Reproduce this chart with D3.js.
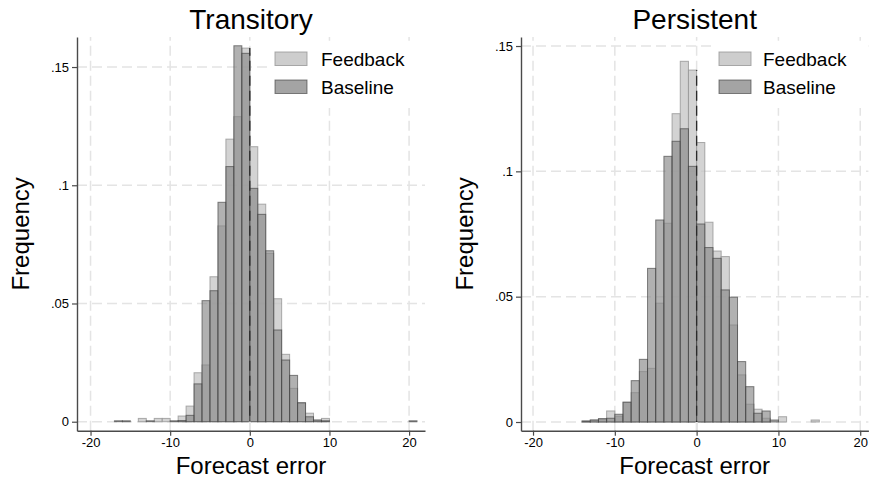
<!DOCTYPE html>
<html>
<head>
<meta charset="utf-8">
<script src="https://cdn.jsdelivr.net/npm/d3@7"></script>
<style>
  html, body { margin: 0; padding: 0; background: #fff; }
  svg { display: block; font-family: "Liberation Sans", Arial, sans-serif; }
</style>
</head>
<body>
<svg id="chart" width="870" height="484"></svg>
<script>
// Histogram bins: left edge of each unit-wide bin of the forecast error
const transitoryBins = [-17, -16, -14, -13, -12, -11, -10, -9, -8, -7, -6, -5, -4, -3, -2, -1, 0, 1, 2, 3, 4, 5, 6, 7, 8, 9, 20];
const transitoryFeedback = [0, 0, 0.0014, 0, 0.0014, 0.0014, 0, 0.0024, 0.0066, 0.0207, 0.0240, 0.0613, 0.0828, 0.1195, 0.1290, 0.1580, 0.1163, 0.0920, 0.0712, 0.0520, 0.0285, 0.0141, 0.0080, 0.0036, 0.0007, 0.0014, 0];
const transitoryBaseline = [0.0004, 0.0004, 0, 0.0004, 0, 0, 0.0004, 0.0005, 0.0027, 0.0160, 0.0512, 0.0554, 0.0928, 0.1079, 0.1590, 0.1558, 0.0987, 0.0877, 0.0723, 0.0388, 0.0261, 0.0196, 0.0080, 0.0021, 0.0007, 0.0004, 0.0004];

const persistentBins = [-14, -13, -12, -11, -10, -9, -8, -7, -6, -5, -4, -3, -2, -1, 0, 1, 2, 3, 4, 5, 6, 7, 8, 9, 10, 14];
const persistentFeedback = [0.0004, 0.0008, 0.0013, 0.0044, 0.0023, 0.0079, 0.0117, 0.0201, 0.0214, 0.0474, 0.0793, 0.1230, 0.1439, 0.1404, 0.1115, 0.0797, 0.0682, 0.0660, 0.0387, 0.0188, 0.0071, 0.0051, 0.0015, 0, 0.0021, 0.0008];
const persistentBaseline = [0.0004, 0.0008, 0.0013, 0.0015, 0.0031, 0.0079, 0.0165, 0.0250, 0.0613, 0.0806, 0.1060, 0.1120, 0.1170, 0.1020, 0.0790, 0.0696, 0.0653, 0.0527, 0.0498, 0.0241, 0.0141, 0.0035, 0.0044, 0.0008, 0, 0];

const binWidth = 1;
const xTicks = [-20, -10, 0, 10, 20];
const transitoryYTicks = [0, 0.05, 0.1, 0.15];
const persistentYTicks = [0, 0.05, 0.1, 0.15];
const seriesNames = ["Feedback", "Baseline"];
const panelTitles = ["Transitory", "Persistent"];
const xTitle = "Forecast error";
const yTitle = "Frequency";

// Visual styles for the two overlaid histograms
const styles = {
  Feedback: { fill: "rgb(196,196,196)", fillOpacity: 0.75, stroke: "rgb(150,150,150)", strokeOpacity: 0.8 },
  Baseline: { fill: "rgb(136,136,136)", fillOpacity: 0.66, stroke: "rgb(55,55,55)", strokeOpacity: 0.6 }
};

const panels = [
  {
    title: panelTitles[0], bins: transitoryBins,
    series: { Feedback: transitoryFeedback, Baseline: transitoryBaseline },
    yTicks: transitoryYTicks,
    xDomain: [-21.7, 22.0], xRange: [77, 425],
    yDomain: [-0.0038, 0.1627], yRange: [430.7, 37],
    yLabelX: 29, legend: { x: 268, w: 157, swatchX: 275, textX: 321 }
  },
  {
    title: panelTitles[1], bins: persistentBins,
    series: { Feedback: persistentFeedback, Baseline: persistentBaseline },
    yTicks: persistentYTicks,
    xDomain: [-21.47, 21.0], xRange: [521, 868.4],
    yDomain: [-0.00347, 0.1536], yRange: [430.7, 37],
    yLabelX: 473, legend: { x: 712, w: 156, swatchX: 719, textX: 763 }
  }
];

const svg = d3.select("#chart");
const fmtY = d => d === 0 ? "0" : String(d).replace(/^0/, "");
const fmtX = d => String(d);
const gridDash = "10,5";

panels.forEach(p => {
  const x = d3.scaleLinear().domain(p.xDomain).range(p.xRange);
  const y = d3.scaleLinear().domain(p.yDomain).range(p.yRange);
  const g = svg.append("g");

  // dashed grid
  const grid = g.append("g")
    .attr("stroke", "#e4e4e4").attr("stroke-width", 1.5)
    .attr("stroke-dasharray", gridDash);
  grid.selectAll("line.h").data(p.yTicks).join("line")
    .attr("x1", p.xRange[0]).attr("x2", p.xRange[1])
    .attr("y1", d => y(d)).attr("y2", d => y(d));
  grid.selectAll("line.v").data(xTicks).join("line")
    .attr("y1", p.yRange[0]).attr("y2", p.yRange[1])
    .attr("x1", d => x(d)).attr("x2", d => x(d));

  // overlaid histograms
  seriesNames.forEach(name => {
    const st = styles[name];
    const rows = p.bins.map((b, i) => ({ b, v: p.series[name][i] })).filter(r => r.v > 0);
    g.append("g").selectAll("rect").data(rows).join("rect")
      .attr("x", r => x(r.b))
      .attr("width", r => x(r.b + binWidth) - x(r.b))
      .attr("y", r => y(r.v))
      .attr("height", r => y(0) - y(r.v))
      .attr("fill", st.fill).attr("fill-opacity", st.fillOpacity)
      .attr("stroke", st.stroke).attr("stroke-opacity", st.strokeOpacity)
      .attr("stroke-width", 1);
  });

  // the zero gridline shows through the shared bar edge as a dark dash
  let edgeTop = 0;
  seriesNames.forEach(name => {
    p.bins.forEach((b, i) => {
      if (b === 0 || b === -binWidth) edgeTop = Math.max(edgeTop, p.series[name][i]);
    });
  });
  g.append("line")
    .attr("x1", x(0)).attr("x2", x(0))
    .attr("y1", p.yRange[0]).attr("y2", y(edgeTop))
    .attr("stroke", "#2a2a2a").attr("stroke-width", 1.3)
    .attr("stroke-dasharray", gridDash)
    .attr("stroke-dashoffset", 0);
  // redraw the short stretch below zero in the light grid colour
  g.append("line")
    .attr("x1", x(0)).attr("x2", x(0))
    .attr("y1", p.yRange[0]).attr("y2", y(0))
    .attr("stroke", "#fff").attr("stroke-width", 2);
  g.append("line")
    .attr("x1", x(0)).attr("x2", x(0))
    .attr("y1", p.yRange[0]).attr("y2", y(0))
    .attr("stroke", "#e4e4e4").attr("stroke-width", 1.5).attr("stroke-dasharray", gridDash);

  // axes
  const yAxis = g.append("g").attr("transform", `translate(${p.xRange[0]},0)`)
    .call(d3.axisLeft(y).tickValues(p.yTicks).tickFormat(fmtY).tickSize(5).tickSizeOuter(0));
  const xAxis = g.append("g").attr("transform", `translate(0,${p.yRange[0]})`)
    .call(d3.axisBottom(x).tickValues(xTicks).tickFormat(fmtX).tickSize(5).tickSizeOuter(0));
  [yAxis, xAxis].forEach(a => {
    a.select(".domain").attr("stroke", "#4a4a4a").attr("stroke-width", 1.4);
    a.selectAll(".tick line").attr("stroke", "#4a4a4a").attr("stroke-width", 1.2);
    a.selectAll(".tick text").attr("fill", "#000").style("font-size", "13px")
      .style("font-family", '"Liberation Sans", Arial, sans-serif');
  });
  yAxis.selectAll(".tick text").attr("x", -8);
  xAxis.selectAll(".tick text").attr("y", 7.5);

  // legend
  const lg = g.append("g");
  lg.append("rect").attr("x", p.legend.x).attr("y", 42).attr("width", p.legend.w).attr("height", 66).attr("fill", "#fff");
  seriesNames.forEach((name, i) => {
    const st = styles[name];
    const yy = 52 + i * 28;
    lg.append("rect").attr("x", p.legend.swatchX).attr("y", yy).attr("width", 32).attr("height", 13.5)
      .attr("fill", st.fill).attr("fill-opacity", st.fillOpacity + 0.1)
      .attr("stroke", st.stroke).attr("stroke-opacity", st.strokeOpacity).attr("stroke-width", 1);
    lg.append("text").attr("x", p.legend.textX).attr("y", yy + 7).attr("dy", "0.36em")
      .style("font-size", "19px").attr("fill", "#000").text(name);
  });

  // titles
  const cx = (p.xRange[0] + p.xRange[1]) / 2;
  g.append("text").attr("x", cx).attr("y", 29).attr("text-anchor", "middle")
    .style("font-size", "28px").attr("fill", "#000").text(p.title);
  g.append("text").attr("x", cx).attr("y", 474).attr("text-anchor", "middle")
    .style("font-size", "24px").attr("fill", "#000").text(xTitle);
  g.append("text").attr("transform", `translate(${p.yLabelX},${(p.yRange[0] + p.yRange[1]) / 2}) rotate(-90)`)
    .attr("text-anchor", "middle").style("font-size", "24px").attr("fill", "#000").text(yTitle);
});
</script>
</body>
</html>
